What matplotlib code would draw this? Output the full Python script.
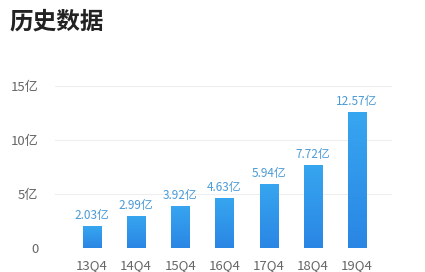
import numpy as np
import matplotlib
matplotlib.use('Agg')
import matplotlib.pyplot as plt

plt.rcParams['font.family'] = ['Noto Sans CJK SC', 'DejaVu Sans']

quarters = ['13Q4', '14Q4', '15Q4', '16Q4', '17Q4', '18Q4', '19Q4']
values = [2.03, 2.99, 3.92, 4.63, 5.94, 7.72, 12.57]
yticks = [0, 5, 10, 15]
ytick_labels = ['0', '5亿', '10亿', '15亿']

fig = plt.figure(figsize=(4.25, 2.72), dpi=100)
ax = fig.add_axes([0.129, 0.088, 0.793, 0.596])

x = np.arange(len(quarters))
bars = ax.bar(x, values, width=0.41, color='#2f95ea', zorder=2)

# vertical gradient on each bar
grad = np.linspace(0, 1, 256).reshape(-1, 1)
cmap = matplotlib.colors.LinearSegmentedColormap.from_list('b', ['#2a86e4', '#37a6f0'])
for b in bars:
	x0, w, h = b.get_x(), b.get_width(), b.get_height()
	im = ax.imshow(grad, extent=[x0, x0 + w, 0, h], origin='lower', aspect='auto',
			cmap=cmap, zorder=3)
	im.set_clip_path(b)
	ax.text(x0 + w / 2, h + 0.35, '{:.2f}亿'.format(h), ha='center', va='bottom',
			fontsize=8.5, color='#4a9ad6')

ax.set_xlim(-0.84, len(quarters) - 1 + 0.79)
ax.set_ylim(0, 15)
ax.set_yticks(yticks)
ax.set_yticklabels(ytick_labels)
ax.set_xticks(x)
ax.set_xticklabels(quarters)
ax.tick_params(length=0, labelsize=9.5, colors='#666666')
ax.tick_params(axis='y', pad=12)
ax.tick_params(axis='x', pad=8)
ax.grid(axis='y', color='#eeeeee', linewidth=0.8, zorder=0)
for s in ax.spines.values():
	s.set_visible(False)

fig.text(0.022, 0.965, '历史数据', fontsize=17, fontweight='bold', color='#222222',
		ha='left', va='top')

fig.savefig('out.png', dpi=100)
